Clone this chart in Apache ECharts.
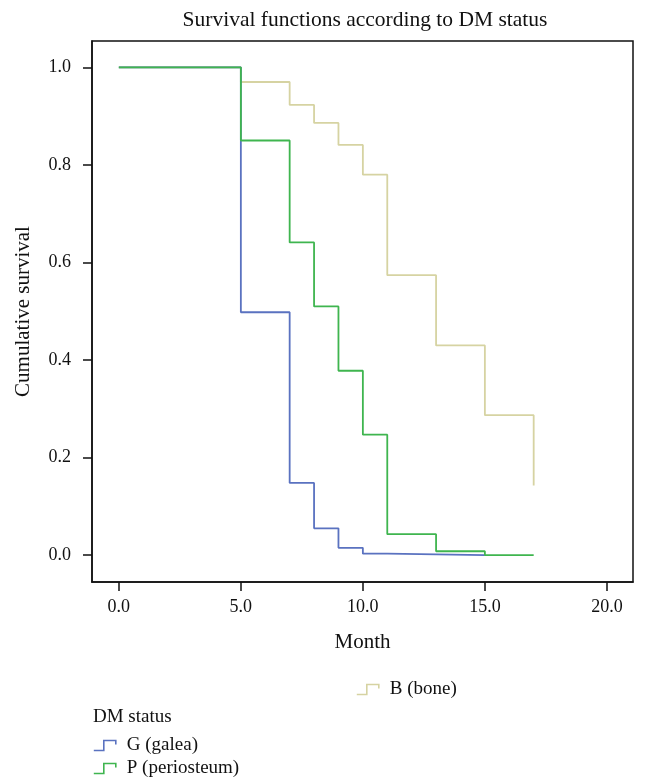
<!DOCTYPE html>
<html>
<head>
<meta charset="utf-8">
<script src="https://cdn.jsdelivr.net/npm/echarts@6/dist/echarts.min.js"></script>
<style>html,body{margin:0;padding:0;background:#fff}#c{width:648px;height:777px}</style>
</head>
<body>
<div id="c"></div>
<script>
var seriesNames = ['G (galea)', 'P (periosteum)', 'B (bone)'];
var galeaTime = [0, 5, 7, 8, 9, 10, 11, 15];
var galeaSurv = [1.0, 0.498, 0.148, 0.055, 0.015, 0.003, 0.0, 0.0];
var perioTime = [0, 5, 7, 8, 9, 10, 11, 13, 15, 17];
var perioSurv = [1.0, 0.850, 0.641, 0.510, 0.378, 0.247, 0.043, 0.008, 0.0, 0.0];
var boneTime = [0, 5, 7, 8, 9, 10, 11, 13, 15, 17];
var boneSurv = [1.0, 0.970, 0.923, 0.886, 0.841, 0.780, 0.574, 0.430, 0.287, 0.143];
var xTicks = [0, 5, 10, 15, 20];
var yTicks = [0, 0.2, 0.4, 0.6, 0.8, 1.0];

var colors = ['#5a72c0', '#3fb54f', '#d6d3a2'];
function pairs(t, s) { return t.map(function (v, i) { return [v, s[i]]; }); }
var FONT = 'Liberation Serif';
var stepIcon = 'path://M0,12L10,12L10,2L22,2L22,6';

function legendFor(idx, left, top) {
  return {
    orient: 'horizontal', left: left, top: top, padding: 0, itemWidth: 22, itemHeight: 12,
    icon: stepIcon, selectedMode: false,
    textStyle: {fontFamily: FONT, fontSize: 19, color: '#111', padding: [0, 0, 0, 6]},
    data: [{name: seriesNames[idx], itemStyle: {color: 'transparent', borderColor: colors[idx], borderWidth: 1.6}}]
  };
}

var chart = echarts.init(document.getElementById('c'), null, {renderer: 'canvas'});
chart.setOption({
  animation: false,
  backgroundColor: '#fff',
  textStyle: {fontFamily: FONT, color: '#111'},
  title: {
    text: 'Survival functions according to DM status',
    left: 360, textAlign: 'center', top: 4,
    textStyle: {fontFamily: FONT, fontSize: 21.5, fontWeight: 'normal', color: '#111'}
  },
  grid: {left: 92, top: 41, right: 15, bottom: 195, show: true, borderColor: '#111', borderWidth: 1.5, containLabel: false},
  xAxis: {
    type: 'value', min: -1.1, max: 21.07,
    name: 'Month', nameLocation: 'middle', nameGap: 50,
    nameTextStyle: {fontFamily: FONT, fontSize: 21, color: '#111'},
    splitLine: {show: false},
    axisLine: {show: true, onZero: false, lineStyle: {color: '#111', width: 1.5}},
    axisTick: {show: true, inside: false, length: 9, lineStyle: {color: '#111', width: 1.5}, customValues: xTicks},
    axisLabel: {customValues: xTicks, fontFamily: FONT, fontSize: 18, color: '#111', margin: 16,
      formatter: function (v) { return v.toFixed(1); }}
  },
  yAxis: {
    type: 'value', min: -0.055, max: 1.054,
    name: 'Cumulative survival', nameLocation: 'middle', nameGap: 58, nameRotate: 90,
    nameTextStyle: {fontFamily: FONT, fontSize: 21, color: '#111'},
    splitLine: {show: false},
    axisLine: {show: true, onZero: false, lineStyle: {color: '#111', width: 1.5}},
    axisTick: {show: true, inside: false, length: 9, lineStyle: {color: '#111', width: 1.5}, customValues: yTicks},
    axisLabel: {customValues: yTicks, fontFamily: FONT, fontSize: 18, color: '#111', margin: 21,
      formatter: function (v) { return v.toFixed(1); }}
  },
  legend: [
    legendFor(0, 93, 736),
    legendFor(1, 93, 759),
    legendFor(2, 356, 680)
  ],
  graphic: [{
    type: 'text', left: 93, top: 708,
    style: {text: 'DM status', fontFamily: FONT, fontSize: 19, fill: '#111'}
  }],
  series: [
    {name: seriesNames[0], type: 'line', step: 'end', showSymbol: false, symbol: 'none', data: pairs(galeaTime, galeaSurv),
      lineStyle: {color: colors[0], width: 1.8}, itemStyle: {color: colors[0]}, z: 3},
    {name: seriesNames[1], type: 'line', step: 'end', showSymbol: false, symbol: 'none', data: pairs(perioTime, perioSurv),
      lineStyle: {color: colors[1], width: 1.8}, itemStyle: {color: colors[1]}, z: 4},
    {name: seriesNames[2], type: 'line', step: 'end', showSymbol: false, symbol: 'none', data: pairs(boneTime, boneSurv),
      lineStyle: {color: colors[2], width: 1.8}, itemStyle: {color: colors[2]}, z: 2}
  ]
});
</script>
</body>
</html>
